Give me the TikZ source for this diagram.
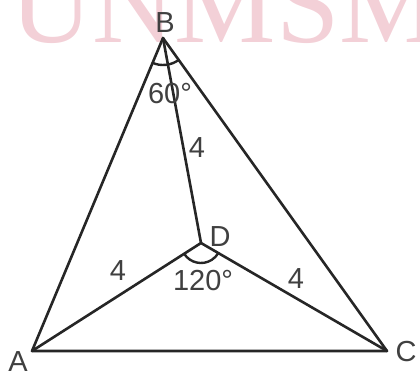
\documentclass[tikz,border=0pt]{standalone}
\usepackage{fontspec}
\setmainfont{Liberation Sans}
\newfontfamily\wmfont{Liberation Serif}
\usetikzlibrary{angles}
\definecolor{wmpink}{RGB}{243,208,215}
\begin{document}
\begin{tikzpicture}[x=1pt,y=-1pt,
  seg/.style={line width=2.6pt,draw=black!85,line cap=round,line join=round},
  lbl/.style={text=black!75,font=\fontsize{29}{32}\selectfont,inner sep=0pt},
  arcst/.style={draw=black!85,line width=2.4pt}]
\useasboundingbox (0,0) rectangle (420,374);
\begin{scope}
\clip (0,0) rectangle (420,374);
\node[anchor=base west,inner sep=0pt,text=wmpink,font=\wmfont\fontsize{114}{114}\selectfont] (wm) at (10,43) {UNMSM};
\end{scope}
\coordinate (A) at (32,351);
\coordinate (B) at (163,38);
\coordinate (C) at (387,351);
\coordinate (D) at (201,243);
\draw[seg] (A) -- (B) -- (C) -- cycle;
\draw[seg] (B) -- (D);
\draw[seg] (A) -- (D) -- (C);
\pic[arcst,angle radius=27pt] {angle=A--B--C};
\pic[arcst,angle radius=20pt] {angle=A--D--C};
\node[lbl] (lB) at (165,23) {B};
\node[lbl] (lA) at (18,362) {A};
\node[lbl] (lC) at (406,352) {C};
\node[lbl] (lD) at (220,237) {D};
\node[lbl] (l60) at (170,94) {60°};
\node[lbl] (l120) at (203,281) {120°};
\node[lbl] (l4a) at (197,148) {4};
\node[lbl] (l4b) at (118,271) {4};
\node[lbl] (l4c) at (296,279) {4};
\end{tikzpicture}
\end{document}
